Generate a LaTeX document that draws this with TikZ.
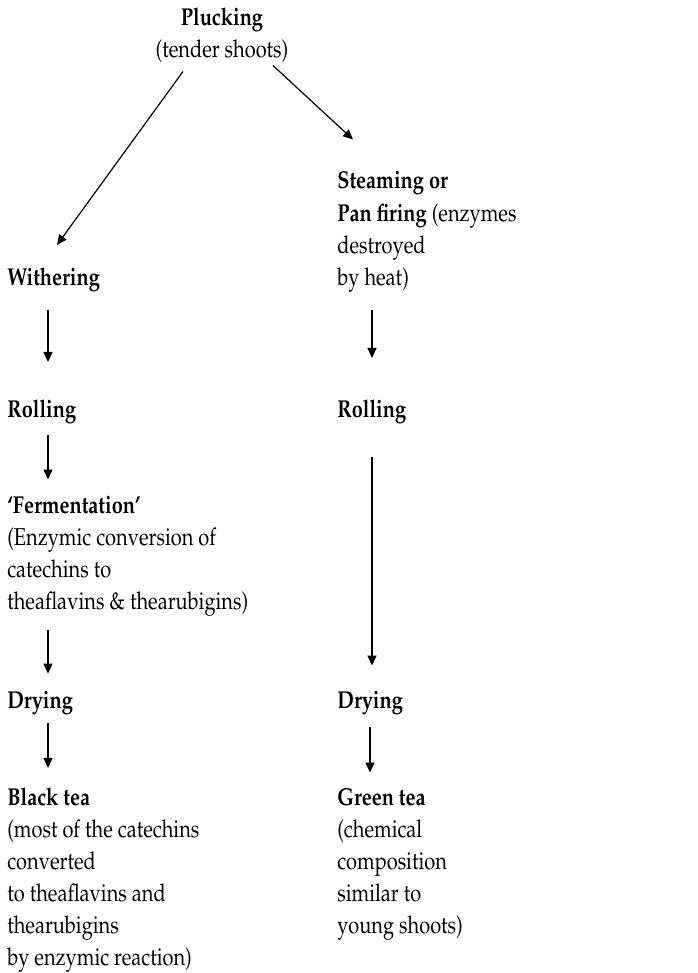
\documentclass[tikz,border=0pt]{standalone}
\usepackage[T1]{fontenc}
\usepackage{mathpazo}
\usetikzlibrary{arrows.meta}

\tikzset{
  stage/.style={anchor=base west, inner sep=0pt, align=left,
    xscale=0.82, transform shape,
    font=\fontsize{12.2}{16}\selectfont},
  flow/.style={-{Triangle[length=5pt,width=4.5pt]}, line width=0.6pt},
}

\begin{document}
\begin{tikzpicture}[x=0.5pt,y=-0.5pt]
\useasboundingbox (0,0) rectangle (697,973);
\coordinate (lcol) at (48,0);
\coordinate (rcol) at (372,0);

\node[stage, anchor=base, align=center] (pluck) at (222,58) {\textbf{Plucking}\\(tender shoots)};
\node[stage] (wither) at (7,285) {\textbf{Withering}};
\node[stage] (steam) at (337,285) {\textbf{Steaming or}\\\textbf{Pan firing} (enzymes\\destroyed\\by heat)};
\node[stage] (rollL) at (7,417) {\textbf{Rolling}};
\node[stage] (rollR) at (337,417) {\textbf{Rolling}};
\node[stage] (ferm) at (7,609) {\textbf{`Fermentation'}\\(Enzymic conversion of\\catechins to\\theaflavins \& thearubigins)};
\node[stage] (dryL) at (7,708) {\textbf{Drying}};
\node[stage] (dryR) at (337,708) {\textbf{Drying}};
\node[stage] (black) at (7,965) {\textbf{Black tea}\\(most of the catechins\\converted\\to theaflavins and\\thearubigins\\by enzymic reaction)};
\node[stage] (green) at (337,933) {\textbf{Green tea}\\(chemical\\composition\\similar to\\young shoots)};

\draw[flow] ([shift={(-39,8)}]pluck.south) -- ([shift={(50,-22)}]wither.north west);
\draw[flow] ([shift={(51,2)}]pluck.south) -- ([shift={(16,-32)}]steam.north west);
\draw[flow, shorten <=9pt, shorten >=18.5pt] (wither.south -| lcol) -- (rollL.north -| lcol);
\draw[flow, shorten <=5.5pt, shorten >=8pt] (rollL.south -| lcol) -- (ferm.north -| lcol);
\draw[flow, shorten <=7pt, shorten >=8.5pt] (ferm.south -| lcol) -- (dryL.north -| lcol);
\draw[flow, shorten <=4pt, shorten >=9.5pt] (dryL.south -| lcol) -- (black.north -| lcol);
\draw[flow, shorten <=9pt, shorten >=20.5pt] (steam.south -| rcol) -- (rollR.north -| rcol);
\draw[flow, shorten <=16.5pt, shorten >=12.5pt] (rollR.south -| rcol) -- (dryR.north -| rcol);
\draw[flow, shorten <=6pt, shorten >=7.5pt] ([xshift=-1pt]dryR.south -| rcol) -- ([xshift=-1pt]green.north -| rcol);
\end{tikzpicture}
\end{document}
